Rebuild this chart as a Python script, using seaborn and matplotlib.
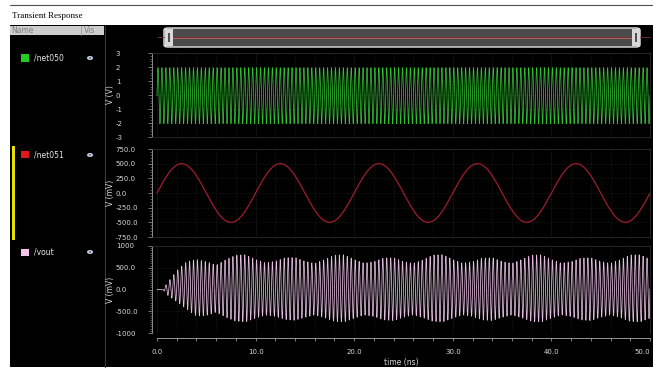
import numpy as np
import matplotlib
matplotlib.use('Agg')
import matplotlib.pyplot as plt
import seaborn as sns
from matplotlib.patches import Rectangle, FancyBboxPatch, Ellipse
from matplotlib.lines import Line2D

# --- values ---
time_ns = np.linspace(0, 50, 40001)

net050_amp_v = 2.0
net050_offset_v = -0.05
net050_freq_ghz = 2.5

net051_amp_mv = 500.0
net051_freq_ghz = 0.1

vout_freq_ghz = 2.5
env_time_ns = [0, 0.6] + list(range(1, 51))
vout_upper_mv = [0, 0, 140, 430, 640, 690, 640, 560, 690, 790, 800, 690, 610, 650, 730, 735,
                 650, 600, 690, 790, 800, 690, 605, 640, 725, 730, 645, 600, 685, 795, 800,
                 690, 605, 640, 725, 730, 645, 600, 690, 790, 800, 690, 605, 640, 725, 730,
                 645, 600, 690, 795, 800, 690]
vout_lower_mv = [0, 0, -120, -280, -450, -610, -600, -520, -640, -730, -745, -660, -590, -620,
                 -690, -710, -640, -585, -650, -735, -745, -660, -585, -620, -700, -715, -640,
                 -585, -650, -735, -745, -660, -585, -620, -700, -715, -640, -585, -650, -735,
                 -745, -660, -585, -620, -700, -715, -640, -585, -650, -735, -745, -660]

signal_names = ['/net050', '/net051', '/vout']
signal_colors = ['#30c230', '#a01c2a', '#e4bce0']
legend_colors = ['#22cc22', '#e01818', '#f2c4ec']
y_labels = ['V (V)', 'V (mV)', 'V (mV)']
y_ticks = [[3, 2, 1, 0, -1, -2, -3],
           [750, 500, 250, 0, -250, -500, -750],
           [1000, 500, 0, -500, -1000]]
y_tick_labels = [['3', '2', '1', '0', '-1', '-2', '-3'],
                 ['750.0', '500.0', '250.0', '0.0', '-250.0', '-500.0', '-750.0'],
                 ['1000', '500.0', '0.0', '-500.0', '-1000']]
y_minor_step = [0.2, 50, 50]
x_ticks = [0, 10, 20, 30, 40, 50]
x_tick_labels = ['0.0', '10.0', '20.0', '30.0', '40.0', '50.0']

# --- signals ---
net050 = net050_offset_v + net050_amp_v * np.sin(2 * np.pi * net050_freq_ghz * time_ns)
net051 = net051_amp_mv * np.sin(2 * np.pi * net051_freq_ghz * time_ns)
up = np.interp(time_ns, env_time_ns, vout_upper_mv)
lo = np.interp(time_ns, env_time_ns, vout_lower_mv)
vout = (up + lo) / 2 + (up - lo) / 2 * np.sin(2 * np.pi * vout_freq_ghz * time_ns)
series = [net050, net051, vout]

sns.set_theme(style='dark')
plt.rcParams['font.family'] = ['DejaVu Sans']

W, H = 653, 370
fig = plt.figure(figsize=(W / 100, H / 100), dpi=100, facecolor='white')


def fx(x):
    return x / W


def fy(y):
    return 1 - y / H


def rect(x0, y0, x1, y1, z=1, **kw):
    fig.add_artist(Rectangle((fx(x0), fy(y1)), fx(x1 - x0), (y1 - y0) / H,
                             transform=fig.transFigure, zorder=z, **kw))


# window chrome
rect(10, 25, 653, 367, z=-10, facecolor='black', edgecolor='none')
fig.add_artist(Line2D([fx(10), 1], [fy(5), fy(5)], color='#505050', lw=0.8,
                      transform=fig.transFigure))
fig.text(fx(12), fy(16), 'Transient Response', family='Liberation Serif', fontsize=6.5,
         color='black', va='center', ha='left')
rect(10, 26, 104, 35, facecolor='#cdcdcd', edgecolor='none')
fig.add_artist(Line2D([fx(81), fx(81)], [fy(26), fy(35)], color='#9a9a9a', lw=0.6,
                      transform=fig.transFigure))
fig.text(fx(11), fy(30.5), 'Name', fontsize=5.5, color='#808080', va='center')
fig.text(fx(84), fy(30.5), 'Vis', fontsize=5.5, color='#808080', va='center')
fig.add_artist(Line2D([fx(104.5), fx(104.5)], [fy(26), fy(367)], color='#3a3a3a', lw=0.8,
                      transform=fig.transFigure))

# scroll bar
fig.add_artist(Line2D([fx(157), fx(650)], [fy(37), fy(37)], color='#7a3030', lw=0.6,
                      transform=fig.transFigure))
fig.add_artist(FancyBboxPatch((fx(164), fy(47)), fx(476), 19 / H,
                              boxstyle='round,pad=0,rounding_size=0.006',
                              facecolor='#4a4a4a', edgecolor='#e8e8e8', lw=1.0,
                              transform=fig.transFigure))
fig.add_artist(Line2D([fx(172), fx(632)], [fy(37.5), fy(37.5)], color='#b06060', lw=0.7,
                      transform=fig.transFigure))
for hx in (165, 632):
    rect(hx, 29, hx + 8, 46, z=3, facecolor='#d8d8d8', edgecolor='none')
    rect(hx + 3, 33, hx + 5, 42, z=4, facecolor='#505050', edgecolor='none')

# name list
name_y = [58, 155, 252]
for name, col, ny in zip(signal_names, legend_colors, name_y):
    rect(21, ny - 3.5, 29, ny + 3.5, facecolor=col, edgecolor='none')
    fig.text(fx(34), fy(ny), name, fontsize=5.5, color='#e8e8e8', va='center', ha='left')
    fig.add_artist(Ellipse((fx(90), fy(ny)), 6 / W, 4 / H, facecolor='#c8d2e6',
                           edgecolor='none', transform=fig.transFigure))
    fig.add_artist(Ellipse((fx(90), fy(ny)), 2 / W, 2 / H, facecolor='#5a6a8a',
                           edgecolor='none', transform=fig.transFigure, zorder=2))
rect(12, 146, 14.5, 240, facecolor='#e8e000', edgecolor='none')

# panels: (top px, bottom px)
panels = [(53, 137), (149, 237), (246, 333)]
ax_left, ax_right = 152, 650
xmin = -(157 - ax_left) * 50 / (650 - 157)
ylims = [(-3, 3), (-750, 750), (-1000, 1000)]
axes = []
for i, (top, bot) in enumerate(panels):
    ax = fig.add_axes([fx(ax_left), fy(bot), fx(ax_right - ax_left), (bot - top) / H])
    ax.set_zorder(5)
    ax.set_facecolor('black')
    sns.lineplot(x=time_ns, y=series[i], ax=ax, color=signal_colors[i],
                 linewidth=0.55 if i != 1 else 0.9, estimator=None, sort=False)
    ax.set_xlim(xmin, 50)
    ax.set_ylim(*ylims[i])
    ax.set_yticks(y_ticks[i], labels=y_tick_labels[i])
    ax.yaxis.set_minor_locator(matplotlib.ticker.MultipleLocator(y_minor_step[i]))
    ax.set_xticks(x_ticks)
    ax.xaxis.set_minor_locator(matplotlib.ticker.MultipleLocator(2))
    ax.tick_params(axis='y', which='major', direction='out', length=3.0, width=0.5,
                   color='#a0a0a0', labelsize=5, labelcolor='#d8d8d8', pad=23, left=True)
    ax.tick_params(axis='y', which='minor', direction='out', length=1.6, width=0.4,
                   color='#909090', left=True)
    for lab in ax.get_yticklabels():
        lab.set_horizontalalignment('left')
    ax.grid(False)
    ax.xaxis.grid(True, which='minor', color='#1c1c1c', lw=0.5, ls=(0, (1, 1)))
    ax.xaxis.grid(True, which='major', color='#2c2c2c', lw=0.5, ls=(0, (1, 1)))
    ax.yaxis.grid(True, which='major', color='#1c1c1c', lw=0.5, ls=(0, (1, 1)))
    for s in ('top', 'right', 'bottom'):
        ax.spines[s].set_color('#2a2a2a')
        ax.spines[s].set_linewidth(0.6)
    ax.spines['left'].set_color('#a0a0a0')
    ax.spines['left'].set_linewidth(0.6)
    ax.set_xlabel('')
    ax.set_ylabel('')
    if i < 2:
        ax.tick_params(axis='x', which='both', length=0, labelbottom=False)
    fig.text(fx(111), fy((top + bot) / 2), y_labels[i], rotation=90, fontsize=5.5,
             color='#d8d8d8', va='center', ha='center')
    axes.append(ax)

ax = axes[2]
ax.spines['bottom'].set_position(('outward', 3.6))
ax.spines['bottom'].set_bounds(0, 50)
ax.spines['bottom'].set_color('#b0b0b0')
ax.set_xticks(x_ticks, labels=x_tick_labels)
ax.tick_params(axis='x', which='both', direction='out', length=2.2, width=0.5,
               color='#b0b0b0', labelsize=5, labelcolor='#d8d8d8', pad=5.5, bottom=True)
ax.get_xticklabels()[-1].set_horizontalalignment('right')
fig.text(fx(401), fy(362), 'time (ns)', fontsize=5.5, color='#d8d8d8', va='center',
         ha='center')

fig.savefig('out.png', dpi=100, facecolor='white')
